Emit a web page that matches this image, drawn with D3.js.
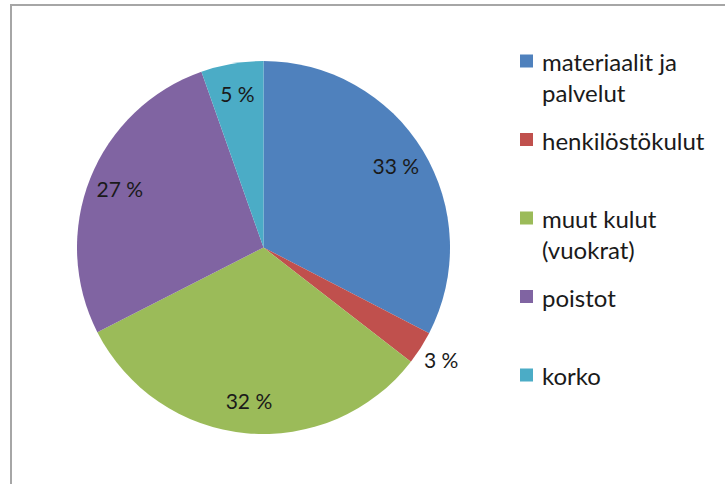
<!DOCTYPE html>
<html lang="fi">
<head>
<meta charset="UTF-8">
<title>Kulut</title>
<style>
  html, body { margin: 0; padding: 0; background: #fff; }
  svg text { font-family: Lato, "Noto Sans", sans-serif; fill: #1a1a1a; }
</style>
</head>
<body>
<div id="chart"></div>
<script src="https://cdnjs.cloudflare.com/ajax/libs/d3/7.8.5/d3.min.js"></script>
<script>
// kulujen osuudet (%), luettu kuvasta
var categories = ['materiaalit ja palvelut', 'henkilöstökulut', 'muut kulut (vuokrat)', 'poistot', 'korko'];
var values = [32.6, 2.9, 32.0, 27.1, 5.4];
var labels = ['33 %', '3 %', '32 %', '27 %', '5 %'];
var legendLines = [['materiaalit ja', 'palvelut'], ['henkilöstökulut'], ['muut kulut', '(vuokrat)'], ['poistot'], ['korko']];
var colors = ['#4f81bd', '#c0504d', '#9bbb59', '#8064a2', '#4bacc6'];

var width = 725, height = 484;
var cx = 263.5, cy = 247.5, radius = 186.5;

var svg = d3.select('#chart').append('svg')
    .attr('width', width)
    .attr('height', height);

// kehys (oikea ja ala reuna jää kuvan ulkopuolelle)
svg.append('rect')
    .attr('x', 11).attr('y', 5)
    .attr('width', 800).attr('height', 600)
    .attr('fill', 'none')
    .attr('stroke', '#a6a6a6')
    .attr('stroke-width', 2);

var color = d3.scaleOrdinal().domain(categories).range(colors);

var pie = d3.pie().sort(null).value(function (d) { return d; });
var arcs = pie(values);

var arc = d3.arc().innerRadius(0).outerRadius(radius);
var labelArc = d3.arc().innerRadius(radius * 0.66).outerRadius(radius);
var outerLabelArc = d3.arc().innerRadius(radius * 1.13).outerRadius(radius * 1.13);

var g = svg.append('g').attr('transform', 'translate(' + cx + ',' + cy + ')');

g.selectAll('path')
    .data(arcs)
    .enter()
    .append('path')
    .attr('d', arc)
    .attr('fill', function (d, i) { return color(categories[i]); });

// pienet siivut saavat nimen ulkopuolelle
g.selectAll('text.lbl')
    .data(arcs)
    .enter()
    .append('text')
    .attr('class', 'lbl')
    .attr('transform', function (d) {
        var small = (d.endAngle - d.startAngle) < 0.25;
        var c = small ? outerLabelArc.centroid(d) : labelArc.centroid(d);
        return 'translate(' + c[0] + ',' + c[1] + ')';
    })
    .attr('text-anchor', 'middle')
    .attr('dy', '0.35em')
    .style('font-size', '21px')
    .text(function (d, i) { return labels[i]; });

// selite
var legend = svg.append('g').attr('transform', 'translate(520,0)');
var rowY = d3.scalePoint().domain(categories).range([61, 375]);

var item = legend.selectAll('g.item')
    .data(categories)
    .enter()
    .append('g')
    .attr('class', 'item')
    .attr('transform', function (d) { return 'translate(0,' + rowY(d) + ')'; });

item.append('rect')
    .attr('x', 0).attr('y', -6.5)
    .attr('width', 13).attr('height', 13)
    .attr('fill', function (d) { return color(d); });

item.append('text')
    .attr('x', 22)
    .style('font-size', '24px')
    .each(function (d, i) {
        var t = d3.select(this);
        legendLines[i].forEach(function (line, j) {
            t.append('tspan')
                .attr('x', 22)
                .attr('y', 10 + j * 31)
                .text(line);
        });
    });
</script>
</body>
</html>
